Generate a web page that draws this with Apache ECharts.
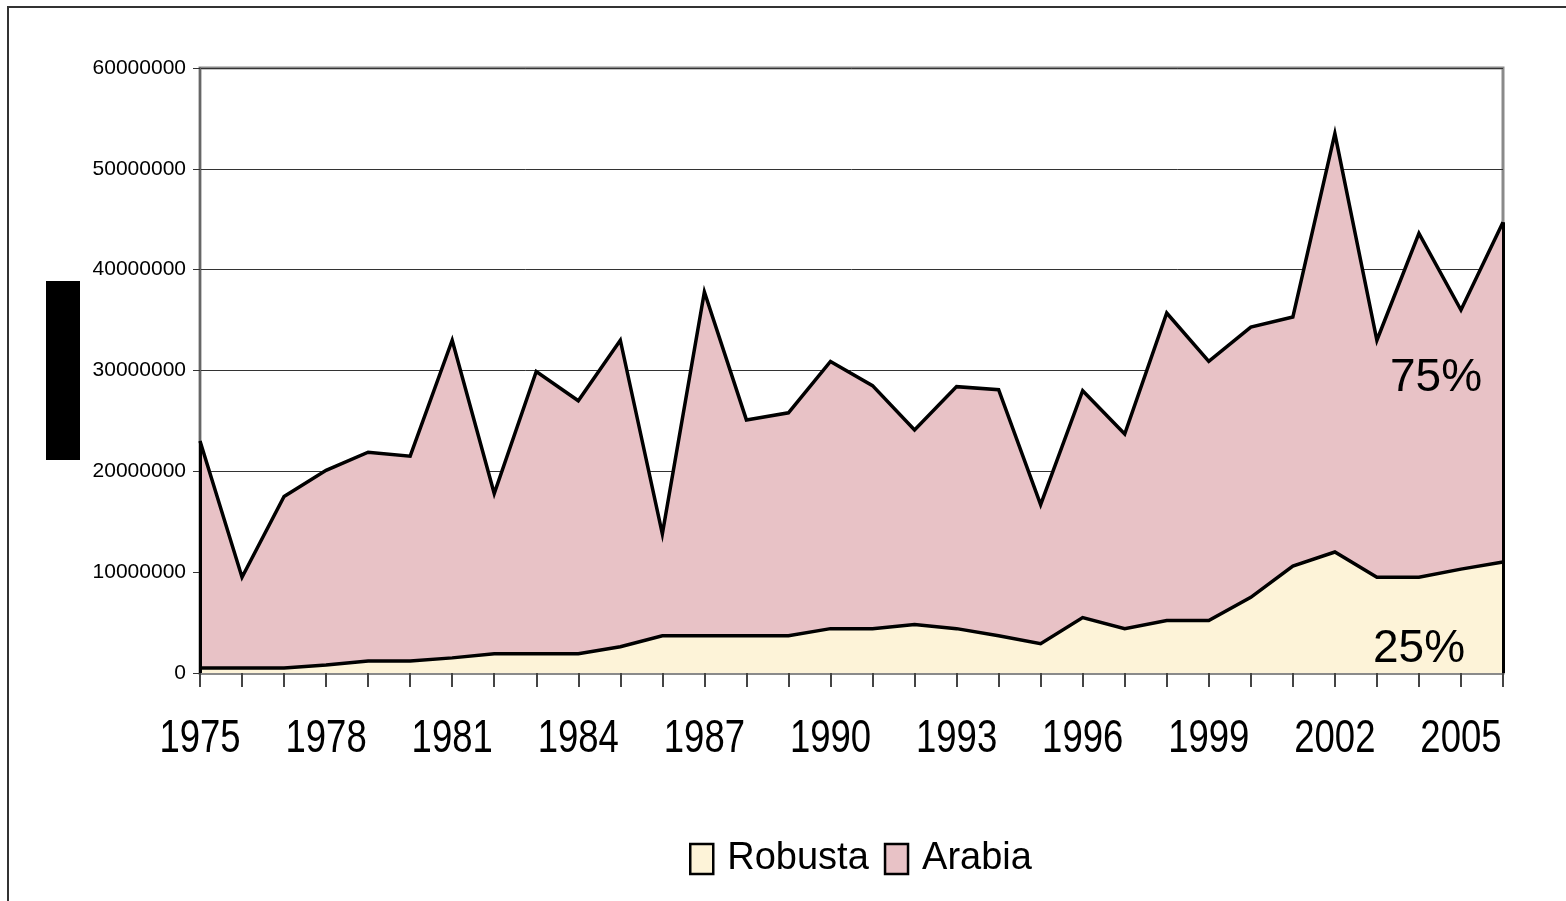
<!DOCTYPE html>
<html>
<head>
<meta charset="utf-8">
<script src="https://cdn.jsdelivr.net/npm/echarts@6/dist/echarts.min.js"></script>
<style>
html,body{margin:0;padding:0;background:#fff;}
#chart{width:1566px;height:901px;}
</style>
</head>
<body>
<div id="chart"></div>
<script>
const years = ['1975','1976','1977','1978','1979','1980','1981','1982','1983','1984','1985','1986','1987','1988','1989','1990','1991','1992','1993','1994','1995','1996','1997','1998','1999','2000','2001','2002','2003','2004','2005','2006'];
const robusta = [500000,500000,500000,800000,1200000,1200000,1500000,1900000,1900000,1900000,2600000,3700000,3700000,3700000,3700000,4400000,4400000,4800000,4400000,3700000,2900000,5500000,4400000,5200000,5200000,7500000,10600000,12000000,9500000,9500000,10300000,11000000];
const arabia = [22500000,9000000,17000000,19300000,20700000,20300000,31500000,15900000,28000000,25100000,30400000,10100000,34100000,21400000,22100000,26500000,24100000,19300000,24000000,24400000,13800000,22500000,19300000,30500000,25700000,26800000,24700000,41500000,23500000,34100000,25700000,33700000];
const seriesNames = ['Robusta','Arabia'];
const shareLabels = ['25%','75%'];
const yTicks = {min:0, max:60000000, interval:10000000};
const yearLabelStep = 3;

const creamColor = '#fdf3d8';
const pinkColor = '#e8c2c6';
const regularFont = "'Liberation Sans',Arial,sans-serif";

const last = years.length - 1;
const firstTotal = robusta[0] + arabia[0];
const lastTotal = robusta[last] + arabia[last];

const chart = echarts.init(document.getElementById('chart'), null, {renderer:'canvas'});
chart.setOption({
  animation:false,
  backgroundColor:'#ffffff',
  grid:{left:200, right:63, top:68, bottom:228, containLabel:false, outerBoundsMode:'none',
        show:true, borderColor:'#8a8a8a', borderWidth:3, backgroundColor:'transparent'},
  legend:{
    data:[{name:seriesNames[0], itemStyle:{color:creamColor}}, {name:seriesNames[1], itemStyle:{color:pinkColor}}],
    left:684, top:835, icon:'rect', itemWidth:23, itemHeight:30, itemGap:15,
    itemStyle:{borderColor:'#000', borderWidth:2.5},
    textStyle:{fontSize:38, fontFamily:regularFont, color:'#000', padding:[0,0,0,9]},
    selectedMode:false
  },
  xAxis:{
    type:'category', data:years, boundaryGap:false,
    axisLine:{show:true, lineStyle:{color:'#8a8a8a', width:3}},
    axisTick:{show:true, interval:0, length:14, lineStyle:{color:'#444', width:2}},
    axisLabel:{show:false},
    splitLine:{show:false}
  },
  yAxis:{
    type:'value', min:yTicks.min, max:yTicks.max, interval:yTicks.interval,
    axisLine:{show:true, lineStyle:{color:'#666', width:2}},
    axisTick:{show:true, length:7, lineStyle:{color:'#333', width:1}},
    axisLabel:{fontSize:21, fontFamily:regularFont, color:'#000', margin:14, formatter:function(v){return String(v);}},
    splitLine:{show:true, lineStyle:{color:'#333', width:1}}
  },
  series:[
    {name:seriesNames[0], type:'line', stack:'total', data:robusta, symbol:'none', z:4,
     itemStyle:{color:creamColor},
     lineStyle:{color:'#000', width:3.5, join:'miter'},
     areaStyle:{color:creamColor, opacity:1}},
    {name:seriesNames[1], type:'line', stack:'total', data:arabia, symbol:'none', z:3,
     itemStyle:{color:pinkColor},
     lineStyle:{color:'#000', width:3.5, join:'miter'},
     areaStyle:{color:pinkColor, opacity:1},
     markLine:{silent:true, symbol:['none','none'], label:{show:false},
       lineStyle:{color:'#000', width:3, type:'solid'},
       data:[
         [{coord:[years[0],0]},{coord:[years[0],firstTotal]}],
         [{coord:[years[last],0]},{coord:[years[last],lastTotal]}]
       ]}}
  ],
  graphic:[
    {id:'frame', type:'rect', z:-10, shape:{x:8, y:7, width:1700, height:1100}, style:{fill:'none', stroke:'#333', lineWidth:2}},
    {id:'titlebox', type:'rect', z:10, shape:{x:46, y:281, width:34, height:179}, style:{fill:'#000'}},
    {id:'share75', type:'text', z:100, style:{text:shareLabels[1], x:1390, y:378, font:"46px "+regularFont, fill:'#000', textAlign:'left', textVerticalAlign:'middle'}},
    {id:'share25', type:'text', z:100, style:{text:shareLabels[0], x:1373, y:649, font:"46px "+regularFont, fill:'#000', textAlign:'left', textVerticalAlign:'middle'}}
  ]
});

// Category (year) labels: placed through the axis scale, drawn in a tall narrow style
const baseY = chart.convertToPixel({yAxisIndex:0}, 0);
const yearLabels = [];
for (let i = 0; i < years.length; i += yearLabelStep) {
  const px = chart.convertToPixel({xAxisIndex:0}, years[i]);
  yearLabels.push({
    id:'yl'+i, type:'text', z:50, x:px, y:baseY + 66, scaleY:1.27,
    style:{text:years[i], x:0, y:0, font:"36.5px "+regularFont, fill:'#000', textAlign:'center', textVerticalAlign:'middle'}
  });
}
chart.setOption({graphic:yearLabels});
</script>
</body>
</html>
